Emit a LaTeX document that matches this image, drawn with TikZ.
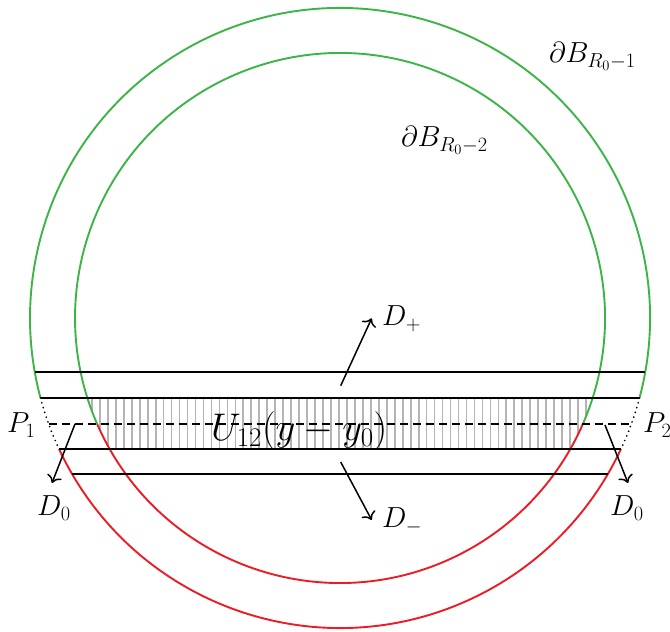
\RequirePackage{fix-cm}
\documentclass[tikz,border=0pt]{standalone}
\usetikzlibrary{calc,arrows.meta}
\definecolor{cgreen}{RGB}{60,180,70}
\definecolor{cred}{RGB}{236,28,36}
\definecolor{chatch}{RGB}{180,180,180}
\begin{document}
\begin{tikzpicture}[x=1pt,y=1pt,
  grn/.style={draw=cgreen, line width=1.9pt},
  rd/.style={draw=cred, line width=1.9pt},
  bl/.style={draw=black, line width=1.9pt},
  dsh/.style={draw=black, line width=1.9pt, dash pattern=on 8pt off 5pt},
  dts/.style={draw=black, line width=1.9pt, line cap=round, dash pattern=on 0pt off 5pt},
  hatchline/.style={draw=chatch, line width=1.7pt},
  arr/.style={-{To[scale=1.5]}, draw=black, line width=1.5pt},
  lbl/.style={font=\fontsize{29}{34}\selectfont, inner sep=0pt, anchor=base west},
  biglbl/.style={font=\fontsize{38.5}{44}\selectfont, inner sep=0pt, anchor=base west}]
\useasboundingbox (0,0) rectangle (670,632);
\coordinate (O) at (340,314);
% hatching
\begin{scope}
  \clip (O) circle (265);
  \clip (80,183) rectangle (600,234);
  \foreach \k in {0,...,62} \draw[hatchline] ({91.9+7.97*\k},180) -- ++(0,57);
\end{scope}
% outer circle
\draw[grn] (O) ++(-14.96:310) arc[start angle=-14.96, end angle=194.96, radius=310];
\draw[dts] (O) ++(194.96:310) arc[start angle=194.96, end angle=205.0, radius=310];
\draw[dts] (O) ++(-14.96:310) arc[start angle=-14.96, end angle=-25.0, radius=310];
\draw[rd] (O) ++(205.0:310) arc[start angle=205.0, end angle=335.0, radius=310];
% inner circle
\draw[grn] (O) ++(-23.58:265) arc[start angle=-23.58, end angle=203.58, radius=265];
\draw[rd] (O) ++(203.58:265) arc[start angle=203.58, end angle=336.42, radius=265];
% horizontal lines
\draw[bl] (34.74,260) -- (645.26,260);
\draw[bl] (40.5,234) -- (639.5,234);
\draw[dsh] (48.69,208) -- (631.31,208);
\draw[bl] (59.04,183) -- (620.96,183);
\draw[bl] (72.11,158) -- (607.89,158);
% labels
\node[lbl] (dplus) at (382,306) {$D_+$};
\node[lbl] (dminus) at (382,104) {$D_-$};
\node[lbl] (d0l) at (37,116) {$D_0$};
\node[lbl] (d0r) at (610,116) {$D_0$};
\node[lbl] (p1) at (7,199) {$P_1$};
\node[lbl] (p2) at (643,199) {$P_2$};
\node[biglbl] (u) at (211,191) {$U_{12}(y-y_0)$};
\node[lbl] (b1) at (549,569) {$\partial B_{R_0-1}$};
\node[lbl] (b2) at (401,485) {$\partial B_{R_0-2}$};
% arrows
\coordinate (tp) at (340.7,246.3); \coordinate (hp) at (371.7,313.7);
\coordinate (tm) at (340.7,170);   \coordinate (hm) at (371.7,112);
\coordinate (tl) at (75,208);      \coordinate (hl) at (52,149);
\coordinate (tr) at (605,207);     \coordinate (hr) at (628,149);
\draw[arr] (tp) -- (hp);
\draw[arr] (tm) -- (hm);
\draw[arr] (tl) -- (hl);
\draw[arr] (tr) -- (hr);
\end{tikzpicture}
\end{document}
